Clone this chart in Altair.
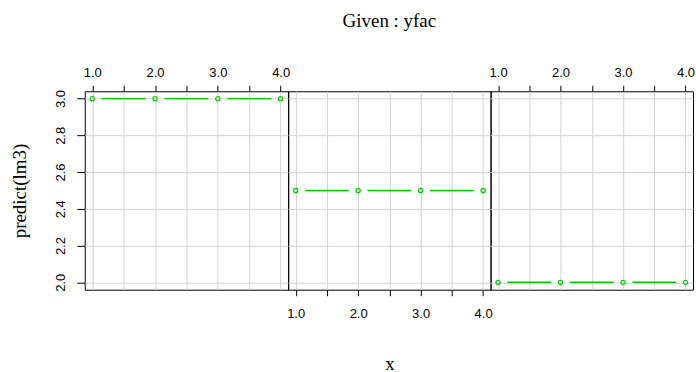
import altair as alt
import pandas as pd

# Conditioning plot: predict(lm3) against x, one panel per level of yfac
x_vals = [1, 2, 3, 4]
yfac_levels = ["1", "2", "3"]
pred_by_level = [3.0, 2.5, 2.0]

x_ticks = [1.0, 1.5, 2.0, 2.5, 3.0, 3.5, 4.0]
y_ticks = [2.0, 2.2, 2.4, 2.6, 2.8, 3.0]

X_DOMAIN = [0.88, 4.12]
Y_DOMAIN = [1.96, 3.04]
GAP = 0.15  # break left in the line around each point (type "b" style)
GREEN = "#00CD00"
GRID = "#d3d3d3"
SERIF = "Liberation Serif"
SANS = "Liberation Sans"

points = pd.DataFrame(
    [{"panel": lvl, "x": x, "pred": p}
     for lvl, p in zip(yfac_levels, pred_by_level) for x in x_vals]
)
segments = pd.DataFrame(
    [{"panel": lvl, "x_start": a + GAP, "x_end": b - GAP, "pred": p}
     for lvl, p in zip(yfac_levels, pred_by_level)
     for a, b in zip(x_vals[:-1], x_vals[1:])]
)

label_expr = "datum.value % 1 === 0 ? format(datum.value, '.1f') : ''"


def x_axis(orient, pad, title=None):
    kw = dict(
        orient=orient, values=x_ticks, labelExpr=label_expr, grid=True,
        gridColor=GRID, gridWidth=1, domain=False, ticks=True, tickSize=6,
        tickColor="black", tickWidth=1, labelFont=SANS, labelFontSize=13,
        labelColor="black", labelPadding=pad, labelFlush=False,
        labelOverlap=False,
    )
    if title:
        kw.update(title=title, titleFont=SERIF, titleFontSize=19,
                  titleFontWeight="normal", titleColor="black",
                  titleBaseline="alphabetic", titleY=80)
    else:
        kw.update(title=None)
    return alt.Axis(**kw)


def y_axis(show_labels):
    if show_labels:
        return alt.Axis(
            values=y_ticks, format=".1f", grid=True, gridColor=GRID,
            gridWidth=1, domain=False, tickSize=8, tickColor="black",
            tickWidth=1, labelFont=SANS, labelFontSize=13, labelColor="black",
            labelAngle=270, labelAlign="center", labelBaseline="bottom",
            labelPadding=9, labelOverlap=False, labelFlush=False,
            title="predict(lm3)", titleFont=SERIF, titleFontSize=19,
            titleFontWeight="normal", titleColor="black", titleAngle=270,
            titleAlign="center", titleBaseline="alphabetic",
            titleX=-59, titleY=99.5,
        )
    return alt.Axis(values=y_ticks, grid=True, gridColor=GRID, gridWidth=1,
                    domain=False, ticks=False, labels=False, title=None)


def panel(level, width, xa, ya):
    xs = alt.Scale(domain=X_DOMAIN, nice=False, zero=False)
    ys = alt.Scale(domain=Y_DOMAIN, nice=False, zero=False)
    seg = (
        alt.Chart(segments)
        .transform_filter(alt.datum.panel == level)
        .mark_rule(color=GREEN, strokeWidth=1.5)
        .encode(
            x=alt.X("x_start:Q", scale=xs, axis=xa),
            x2="x_end:Q",
            y=alt.Y("pred:Q", scale=ys, axis=ya),
        )
    )
    pts = (
        alt.Chart(points)
        .transform_filter(alt.datum.panel == level)
        .mark_point(shape="circle", filled=False, size=18, strokeWidth=1.2,
                    color=GREEN, opacity=1)
        .encode(
            x=alt.X("x:Q", scale=xs, axis=xa),
            y=alt.Y("pred:Q", scale=ys, axis=ya),
        )
    )
    return alt.layer(seg, pts).properties(width=width, height=199)


p1 = panel("1", 204, x_axis("top", 6), y_axis(True))
p2 = panel("2", 203, x_axis("bottom", 12, title="x"), y_axis(False)).properties(
    title=alt.TitleParams(
        "Given : yfac", font=SERIF, fontSize=19, fontWeight="normal",
        color="black", anchor="middle", baseline="alphabetic", offset=45,
    )
)
p3 = panel("3", 203, x_axis("top", 6), y_axis(False))

chart = (
    alt.hconcat(p1, p2, p3, spacing=0, bounds="flush")
    .properties(background="white",
                padding={"left": 10, "top": 11, "right": 0, "bottom": 0})
    .configure_view(stroke="black", strokeWidth=1)
)

chart.save("out.html", embed_options={"renderer": "svg", "actions": False})
